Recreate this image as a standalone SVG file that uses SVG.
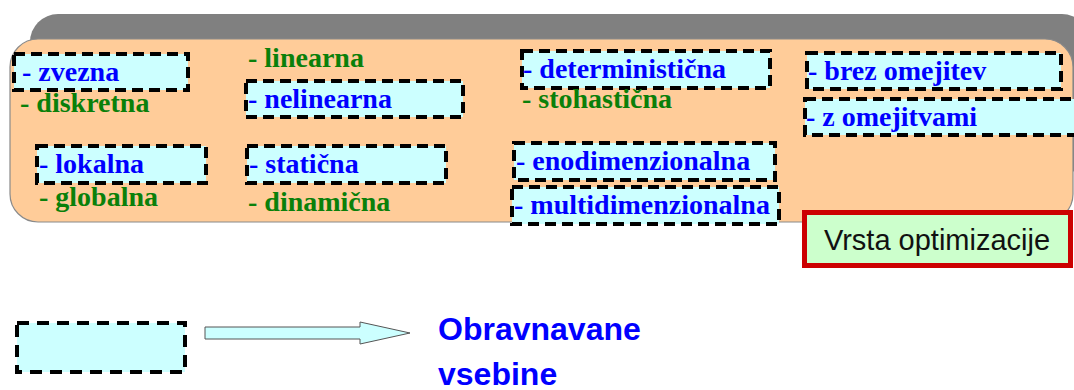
<svg xmlns="http://www.w3.org/2000/svg" width="1074" height="390" viewBox="0 0 1074 390">
  <style>
    .item { fill: #ccffff; stroke: #000; stroke-width: 4; stroke-dasharray: 11 6; }
    .sel { font-family: "Liberation Serif", "Times New Roman", serif; font-weight: bold; font-size: 28px; fill: #0000ff; }
    .alt { font-family: "Liberation Serif", "Times New Roman", serif; font-weight: bold; font-size: 28px; fill: #0a800a; }
    .sans { font-family: "Liberation Sans", Arial, sans-serif; }
  </style>

  <!-- panel background: grey shadow plate behind peach panel -->
  <g id="panel">
    <rect x="30" y="14" width="1060" height="160" rx="28" ry="28" fill="#808080"/>
    <rect x="10" y="39" width="1063" height="183" rx="28" ry="28" fill="#ffcc99" stroke="#8a8a8a" stroke-width="1.2"/>
  </g>

  <g id="n-zvezna">
    <rect class="item" x="14" y="54" width="174" height="36"/>
    <text class="sel" x="22" y="81">- zvezna</text>
  </g>
  <g id="n-diskretna">
    <text class="alt" x="20" y="112">- diskretna</text>
  </g>

  <g id="n-linearna">
    <text class="alt" x="248" y="67">- linearna</text>
  </g>
  <g id="n-nelinearna">
    <rect class="item" x="246" y="81" width="217" height="36"/>
    <text class="sel" x="248" y="108">- nelinearna</text>
  </g>

  <g id="n-lokalna">
    <rect class="item" x="37" y="146" width="169" height="37"/>
    <text class="sel" x="39" y="173">- lokalna</text>
  </g>
  <g id="n-globalna">
    <text class="alt" x="39" y="206">- globalna</text>
  </g>

  <g id="n-staticna">
    <rect class="item" x="247" y="146" width="199" height="37"/>
    <text class="sel" x="249" y="173">- statična</text>
  </g>
  <g id="n-dinamicna">
    <text class="alt" x="248" y="211">- dinamična</text>
  </g>

  <g id="n-deterministicna">
    <rect class="item" x="522" y="51" width="248" height="37"/>
    <text class="sel" x="523" y="78">- deterministična</text>
  </g>
  <g id="n-stohasticna">
    <text class="alt" x="522" y="108">- stohastična</text>
  </g>

  <g id="n-enodimenzionalna">
    <rect class="item" x="514" y="143" width="261" height="37"/>
    <text class="sel" x="516" y="170">- enodimenzionalna</text>
  </g>
  <g id="n-multidimenzionalna">
    <rect class="item" x="512" y="187" width="267" height="37"/>
    <text class="sel" x="514" y="214">- multidimenzionalna</text>
  </g>

  <g id="n-brez">
    <rect class="item" x="807" y="53" width="254" height="36"/>
    <text class="sel" x="808" y="80">- brez omejitev</text>
  </g>
  <g id="n-z">
    <rect class="item" x="805" y="99" width="280" height="36"/>
    <text class="sel" x="806" y="126">- z omejitvami</text>
  </g>

  <g id="n-vrsta">
    <rect x="804.5" y="212.5" width="266" height="53" fill="#ccffcc" stroke="#cc0000" stroke-width="5"/>
    <text class="sans" x="937" y="250" font-size="29" fill="#111" text-anchor="middle">Vrsta optimizacije</text>
  </g>

  <!-- legend -->
  <g id="n-legend">
    <rect x="17" y="323" width="168" height="49" fill="#ccffff" stroke="#000" stroke-width="4" stroke-dasharray="12 8"/>
  </g>
  <g id="connectors">
    <polygon points="205,327 360,327 360,322 410,333 360,344 360,339 205,339" fill="#ccffff" stroke="#555" stroke-width="1"/>
  </g>
  <g id="n-legend-label">
    <text class="sans" x="438" y="340" font-size="32" font-weight="bold" fill="#0000ff">Obravnavane</text>
    <text class="sans" x="438" y="385" font-size="32" font-weight="bold" fill="#0000ff">vsebine</text>
  </g>
</svg>
